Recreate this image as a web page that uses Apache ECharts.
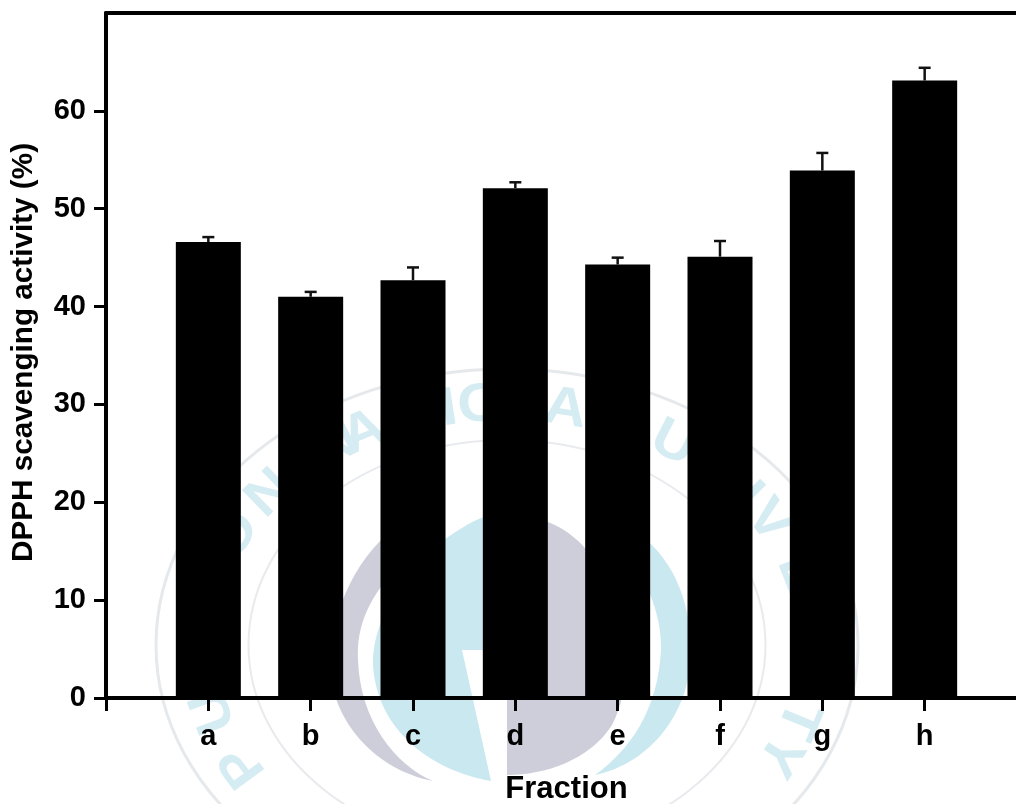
<!DOCTYPE html>
<html>
<head>
<meta charset="utf-8">
<style>html,body{margin:0;padding:0;background:#fff}#c{width:1016px;height:804px}</style>
<script src="https://cdn.jsdelivr.net/npm/echarts@6/dist/echarts.min.js"></script>
</head>
<body>
<div id="c"></div>
<script>
const categories = ['', 'a', 'b', 'c', 'd', 'e', 'f', 'g', 'h', ''];
const means = [null, 46.6, 41.0, 42.7, 52.1, 44.3, 45.1, 53.9, 63.1, null];
const upper = [null, 47.1, 41.5, 44.0, 52.7, 45.0, 46.7, 55.7, 64.4, null];
const yTicks = [0, 10, 20, 30, 40, 50, 60];

const FONT = '"Liberation Sans", Arial, sans-serif';
const cx = 507, cy = 645;
function ring(rx, ry, stroke, width) {
  return { type: 'ellipse', silent: true, z: -10,
    shape: { cx: cx, cy: cy, rx: rx, ry: ry },
    style: { fill: 'none', stroke: stroke, lineWidth: width } };
}
function blob(name, d, fill, z) {
  echarts.graphic.registerShape(name, echarts.graphic.extendPath(d, {}));
  return { type: name, silent: true, z: z, style: { fill: fill } };
}
const wm = [
  ring(351, 276, '#e6e9ec', 3),
  ring(258.5, 205, '#e8eaed', 2),
  blob('wmBlueA', 'M507 510C450 520 373 590 373 665C377 730 430 770 491 781L462 650L507 650Z', '#c9e8f0', -9),
  blob('wmBlueB', 'M640 535C675 560 695 610 690 665C685 720 645 765 595 775C630 750 658 710 661 650C662 620 650 590 640 575Z', '#c9e8f0', -9),
  blob('wmGrayA', 'M507 515C545 515 595 530 615 610C628 650 630 690 612 725C590 760 545 775 507 775Z', '#cdced9', -8),
  blob('wmGrayB', 'M400 525C360 550 330 610 330 665C331 720 375 770 433 781C395 765 360 720 358 660C356 625 370 595 400 565Z', '#cdced9', -8)
];
const ringText = 'PUKYONGNATIONALUNIVERSITY';
const ringAngles = [210, 196, 184, 172, 153, 141, 131, 124, 118, 109, 101, 95, 87, 79, 68, 57, 46, 38, 31, 17, 5, -3, -10, -18, -27];
const rxT = 305, ryT = 240;
ringText.split('').forEach(function (ch, i) {
  const t = ringAngles[i] * Math.PI / 180;
  const normal = Math.atan2(Math.sin(t) / ryT, Math.cos(t) / rxT);
  wm.push({ type: 'text', silent: true, z: -7,
    x: cx + rxT * Math.cos(t), y: cy - ryT * Math.sin(t),
    rotation: normal - Math.PI / 2, scaleX: 1.1,
    style: { text: ch, fill: '#d6ecf3', font: 'bold 54px ' + FONT, textAlign: 'center', textVerticalAlign: 'middle' } });
});

const chart = echarts.init(document.getElementById('c'), null, { renderer: 'canvas' });
chart.setOption({
  animation: false,
  backgroundColor: '#ffffff',
  graphic: { elements: wm },
  grid: { left: 106, top: 13, width: 921, height: 685, containLabel: false, outerBoundsMode: 'none' },
  xAxis: [
    { type: 'category', data: categories, boundaryGap: false, position: 'bottom',
      name: 'Fraction', nameLocation: 'middle', nameGap: 76,
      nameTextStyle: { color: '#000', fontFamily: FONT, fontWeight: 'bold', fontSize: 31 },
      axisLine: { lineStyle: { color: '#000', width: 4 } },
      axisTick: { show: true, length: 13, alignWithLabel: true, lineStyle: { color: '#000', width: 3 } },
      axisLabel: { show: true, interval: 0, margin: 24, color: '#000', fontFamily: FONT, fontWeight: 'bold', fontSize: 29 },
      splitLine: { show: false } },
    { type: 'category', data: categories, boundaryGap: false, position: 'top',
      axisLine: { show: true, lineStyle: { color: '#000', width: 4 } },
      axisTick: { show: false }, axisLabel: { show: false }, splitLine: { show: false } }
  ],
  yAxis: {
    type: 'value', min: 0, max: 70, interval: 10,
    name: 'DPPH scavenging activity (%)', nameLocation: 'middle', nameGap: 82,
    nameTextStyle: { color: '#000', fontFamily: FONT, fontWeight: 'bold', fontSize: 29.7, verticalAlign: 'middle', padding: [0, 0, 0, 6] },
    axisLine: { show: true, lineStyle: { color: '#000', width: 4 } },
    axisTick: { show: true, length: 12, lineStyle: { color: '#000', width: 3 }, customValues: yTicks },
    axisLabel: { show: true, margin: 20, color: '#000', fontFamily: FONT, fontWeight: 'bold', fontSize: 29, customValues: yTicks },
    splitLine: { show: false }
  },
  series: [
    { type: 'bar', data: means, barWidth: 65, itemStyle: { color: '#000' }, z: 3 },
    { type: 'custom', z: 4, data: categories.map(function (c, i) { return [i, means[i], upper[i]]; }),
      encode: { x: 0, y: [1, 2] },
      renderItem: function (params, api) {
        if (api.value(2) == null || isNaN(api.value(2))) return null;
        const a = api.coord([api.value(0), api.value(1)]);
        const b = api.coord([api.value(0), api.value(2)]);
        const s = { stroke: '#111', lineWidth: 2.5, fill: 'none' };
        return { type: 'group', children: [
          { type: 'line', shape: { x1: a[0], y1: a[1], x2: b[0], y2: b[1] }, style: s },
          { type: 'line', shape: { x1: b[0] - 6, y1: b[1], x2: b[0] + 6, y2: b[1] }, style: s }
        ] };
      } }
  ]
});
</script>
</body>
</html>
